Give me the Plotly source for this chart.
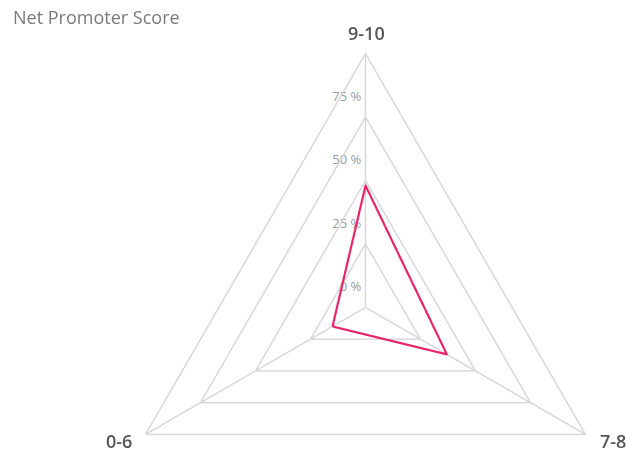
import math
import plotly.graph_objects as go

categories = ["9-10", "7-8", "0-6"]
values = [48, 37, 15]
tick_values = [0, 25, 50, 75]
tick_labels = ["0 %", "25 %", "50 %", "75 %"]
ring_values = [25, 50, 75, 100]

GRID = "#d6d6d6"
FONT = "Open Sans"
W, H = 627, 451
cx, cy, R = 366, 307, 254          # centre and outer-ring radius in px
RMAX = 101                         # radial range max (a hair above 100)
Rp = R * RMAX / 100                # polar radius in px
SECTOR = [-31, 211]
SPOKE_INNER = 0.3                  # start spokes a hair off the exact centre

fig = go.Figure()

closed = categories + categories[:1]

# spokes
for c in categories:
    fig.add_trace(go.Scatterpolargl(
        r=[SPOKE_INNER, 100], theta=[c, c], mode="lines",
        line=dict(color=GRID, width=1.4), hoverinfo="skip", showlegend=False))

# triangular rings
for v in ring_values:
    fig.add_trace(go.Scatterpolargl(
        r=[v] * len(closed), theta=closed, mode="lines",
        line=dict(color=GRID, width=1.4), hoverinfo="skip", showlegend=False))

# data polygon
fig.add_trace(go.Scatterpolargl(
    r=values + values[:1], theta=closed, mode="lines",
    line=dict(color="#e8256b", width=2.2),
    showlegend=False, name="Net Promoter Score"))

# radial tick labels, drawn slightly above their rings
label_offset = 7.5
fig.add_trace(go.Scatterpolar(
    r=[v + label_offset for v in tick_values], theta=[categories[0]] * len(tick_values),
    mode="markers+text", text=tick_labels, textposition="middle left",
    marker=dict(size=6, color="rgba(0,0,0,0)"),
    textfont=dict(family=FONT, size=13, color="#9c9c9c"),
    cliponaxis=False, hoverinfo="skip", showlegend=False))

# category labels just outside each vertex
annotations = []
for i, c in enumerate(categories):
    ang = math.radians(90 - i * 360 / len(categories))
    ca = math.cos(ang)
    d = 20 if abs(ca) < 0.1 else 14
    px = cx + (R + d) * ca
    py = cy - (R + d) * math.sin(ang)
    xanchor = "center" if abs(ca) < 0.1 else ("left" if ca > 0 else "right")
    annotations.append(dict(
        text=c, x=px / W, y=1 - py / H, xref="paper", yref="paper",
        xanchor=xanchor, yanchor="middle", showarrow=False,
        font=dict(family=FONT, size=18, color="#555555", weight=600)))

fig.update_layout(
    width=W, height=H,
    margin=dict(l=0, r=0, t=0, b=0),
    paper_bgcolor="white",
    font=dict(family=FONT),
    annotations=annotations,
    title=dict(text="Net Promoter Score", x=13 / W, xanchor="left",
               y=1 - 18 / H, yanchor="middle", xref="paper", yref="paper",
               font=dict(family=FONT, size=18, color="#7a7a7a")),
    polar=dict(
        gridshape="linear",
        sector=SECTOR,
        bgcolor="rgba(0,0,0,0)",
        domain=dict(x=[(cx - Rp) / W, (cx + Rp) / W],
                    y=[1 - (cy + Rp * math.sin(math.radians(-SECTOR[0]))) / H,
                       1 - (cy - Rp) / H]),
        radialaxis=dict(range=[0, RMAX], showticklabels=False, ticks="",
                        showline=False, showgrid=False),
        angularaxis=dict(type="category", categoryarray=categories,
                         rotation=90, direction="clockwise",
                         showline=False, showgrid=False, ticks="",
                         showticklabels=False),
    ),
)

fig.write_html("out.html")
